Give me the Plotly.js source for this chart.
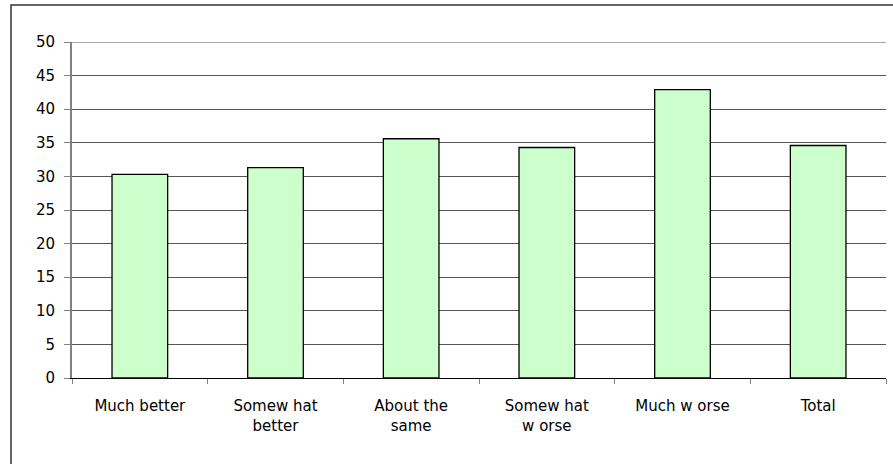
<!DOCTYPE html>
<html>
<head>
<meta charset="utf-8">
<script src="https://cdn.plot.ly/plotly-3.0.1.min.js"></script>
<style>
  html, body { margin: 0; padding: 0; background: #ffffff; }
  #chart { width: 893px; height: 464px; }
</style>
</head>
<body>
<div id="chart"></div>
<script>
const categories = ["Much better", "Somew hat<br>better", "About the<br>same", "Somew hat<br>w orse", "Much w orse", "Total"];
const values = [30.3, 31.3, 35.6, 34.3, 42.9, 34.6];
const yTicks = [0, 5, 10, 15, 20, 25, 30, 35, 40, 45, 50];

const W = 893, H = 464;
const mL = 72, mR = 7, mT = 42, mB = 86;
const pw = W - mL - mR, ph = H - mT - mB;
const px2paperY = py => (mT + ph - py) / ph;
const px2paperX = px => (px - mL) / pw;
const yMax = yTicks[yTicks.length - 1];

const trace = {
  type: "bar",
  x: categories,
  y: values,
  marker: { color: "#CCFFCC", line: { color: "#000000", width: 1.3 } },
  hoverinfo: "skip"
};

const layout = {
  width: W, height: H,
  margin: { l: mL, r: mR, t: mT, b: mB, pad: 0 },
  paper_bgcolor: "#ffffff",
  plot_bgcolor: "#ffffff",
  showlegend: false,
  bargap: 0.59,
  font: { family: "DejaVu Sans, Arial, sans-serif", size: 15, color: "#000000" },
  xaxis: {
    type: "category",
    showgrid: false,
    showline: true, linecolor: "#000000", linewidth: 1,
    ticks: "outside", tickson: "boundaries", ticklen: 5, tickcolor: "#808080", tickwidth: 1,
    ticklabelstandoff: 14,
    tickfont: { size: 15 },
    zeroline: false,
    fixedrange: true
  },
  yaxis: {
    range: [0, yMax],
    tickvals: yTicks,
    ticktext: yTicks.map(String),
    showgrid: true, gridcolor: "#555555", gridwidth: 1,
    showline: true, linecolor: "#808080", linewidth: 2,
    ticks: "outside", ticklen: 6, tickcolor: "#808080", tickwidth: 1,
    ticklabelstandoff: 6,
    tickfont: { size: 15 },
    zeroline: false,
    fixedrange: true
  },
  shapes: [
    {
      type: "rect", xref: "paper", yref: "paper",
      x0: px2paperX(11), x1: px2paperX(W + 20),
      y0: px2paperY(H + 20), y1: px2paperY(5),
      line: { color: "#333333", width: 1.5 },
      fillcolor: "rgba(0,0,0,0)",
      layer: "below"
    },
    {
      type: "line", xref: "paper", yref: "y",
      x0: 0, x1: 1, y0: yMax, y1: yMax,
      line: { color: "#555555", width: 1 },
      layer: "below"
    }
  ]
};

Plotly.newPlot("chart", [trace], layout, { displayModeBar: false, staticPlot: true });
</script>
</body>
</html>
